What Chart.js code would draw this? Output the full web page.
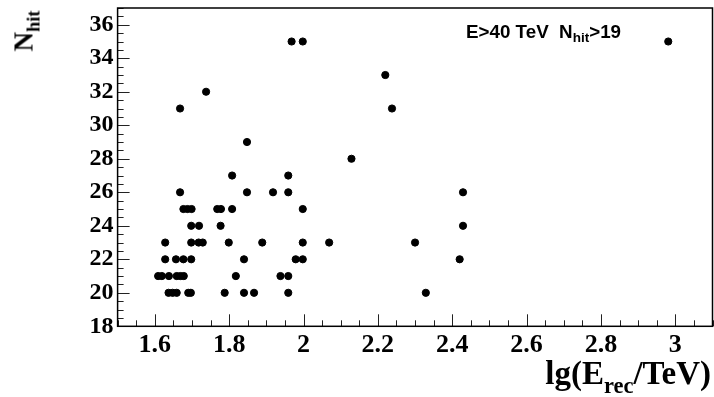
<!DOCTYPE html>
<html>
<head>
<meta charset="utf-8">
<script src="https://cdn.jsdelivr.net/npm/chart.js@4/dist/chart.umd.min.js"></script>
<style>
  body { margin: 0; background: #fff; }
  #wrap { position: relative; width: 714px; height: 397px; overflow: hidden; }
  .lbl { position: absolute; white-space: nowrap; line-height: 1; color: #000; }
  .lbl sub { font-size: 0.68em; vertical-align: -0.4em; line-height: 0; }
  #ytitle { font: bold 27px "Liberation Serif", serif; left: 24px; top: 31px; transform: translate(-50%, -50%) rotate(-90deg); }
  #xtitle { font: bold 33px "Liberation Serif", serif; right: 3px; top: 355px; }
  #note { font: bold 18.8px "Liberation Sans", Arial, sans-serif; left: 466px; top: 21px; }
  #note sub { font-size: 0.72em; vertical-align: -0.3em; }
</style>
</head>
<body>
<div id="wrap">
  <canvas id="c"></canvas>
  <div class="lbl" id="ytitle">N<sub>hit</sub></div>
  <div class="lbl" id="xtitle">lg(E<sub>rec</sub>/TeV)</div>
  <div class="lbl" id="note">E&gt;40 TeV&nbsp;&nbsp;N<sub>hit</sub>&gt;19</div>
</div>
<script>
// event values: reconstructed energy lg(E/TeV) and number of hits
const lgE = [
  1.968, 1.998, 2.981,
  2.220,
  1.738,
  1.668, 2.238,
  1.848,
  2.129,
  1.808, 1.959,
  1.668, 1.848, 1.918, 1.959, 2.429,
  1.677, 1.688, 1.699, 1.768, 1.778, 1.808, 1.998,
  1.698, 1.719, 1.777, 2.429,
  1.628, 1.698, 1.718, 1.729, 1.799, 1.889, 1.998, 2.069, 2.300,
  1.628, 1.657, 1.677, 1.698, 1.840, 1.979, 1.998, 2.420,
  1.609, 1.619, 1.638, 1.659, 1.669, 1.678, 1.818, 1.938, 1.959,
  1.637, 1.648, 1.659, 1.690, 1.697, 1.788, 1.840, 1.867, 1.959, 2.329
];
const nHit = [
  35, 35, 35,
  33,
  32,
  31, 31,
  29,
  28,
  27, 27,
  26, 26, 26, 26, 26,
  25, 25, 25, 25, 25, 25, 25,
  24, 24, 24, 24,
  23, 23, 23, 23, 23, 23, 23, 23, 23,
  22, 22, 22, 22, 22, 22, 22, 22,
  21, 21, 21, 21, 21, 21, 21, 21, 21,
  20, 20, 20, 20, 20, 20, 20, 20, 20, 20
];

// axis ranges and tick labels
const xRange = [1.5, 3.1];
const yRange = [18, 37];
const xTicks = [1.6, 1.8, 2.0, 2.2, 2.4, 2.6, 2.8, 3.0];
const yTicks = [18, 20, 22, 24, 26, 28, 30, 32, 34, 36];
const xMinorStep = 0.05;
const yMinorStep = 0.5;

const points = lgE.map((x, i) => ({ x: x, y: nHit[i] }));

// ROOT-like frame with ticks pointing inwards
const framePlugin = {
  id: 'frame',
  afterDraw(chart) {
    const ctx = chart.ctx;
    const a = chart.chartArea;
    const xs = chart.scales.x, ys = chart.scales.y;
    ctx.save();
    ctx.strokeStyle = '#222';
    ctx.lineWidth = 1;
    ctx.beginPath();
    for (let v = xRange[0]; v <= xRange[1] + 1e-9; v += xMinorStep) {
      const r = Math.round(v * 100) / 100;
      const major = xTicks.some(t => Math.abs(t - r) < 1e-6);
      const px = Math.round(xs.getPixelForValue(r)) + 0.5;
      ctx.moveTo(px, a.bottom);
      ctx.lineTo(px, a.bottom - (major ? 12 : 6));
    }
    for (let v = yRange[0]; v <= yRange[1] + 1e-9; v += yMinorStep) {
      const major = yTicks.some(t => Math.abs(t - v) < 1e-6);
      const py = Math.round(ys.getPixelForValue(v)) + 0.5;
      ctx.moveTo(a.left, py);
      ctx.lineTo(a.left + (major ? 12 : 6), py);
    }
    ctx.stroke();
    ctx.strokeStyle = '#000';
    ctx.lineWidth = 1.5;
    ctx.strokeRect(a.left, a.top, a.right - a.left, a.bottom - a.top);
    ctx.restore();
  }
};

new Chart(document.getElementById('c'), {
  type: 'scatter',
  data: {
    datasets: [{
      data: points,
      backgroundColor: '#000',
      borderColor: '#000',
      pointRadius: 3.6,
      pointHoverRadius: 3.6
    }]
  },
  options: {
    responsive: true,
    maintainAspectRatio: false,
    animation: false,
    layout: { autoPadding: false, padding: { top: 8, right: 1.5, left: 0, bottom: 0 } },
    plugins: { legend: { display: false }, tooltip: { enabled: false } },
    scales: {
      x: {
        type: 'linear',
        min: xRange[0],
        max: xRange[1],
        grid: { display: false, drawTicks: false },
        border: { display: false },
        afterBuildTicks: s => { s.ticks = xTicks.map(v => ({ value: v })); },
        afterFit: s => { s.height = 70.7; s.paddingLeft = 0; s.paddingRight = 0; },
        ticks: {
          padding: 3,
          color: '#000',
          maxRotation: 0,
          font: { family: 'Liberation Serif', size: 26, weight: 'bold' },
          callback: v => String(Math.round(v * 10) / 10)
        }
      },
      y: {
        type: 'linear',
        min: yRange[0],
        max: yRange[1],
        grid: { display: false, drawTicks: false },
        border: { display: false },
        afterBuildTicks: s => { s.ticks = yTicks.map(v => ({ value: v })); },
        afterFit: s => { s.width = 117.6; s.paddingTop = 0; s.paddingBottom = 0; },
        ticks: {
          padding: 4,
          color: '#000',
          font: { family: 'Liberation Serif', size: 24, weight: 'bold' }
        }
      }
    }
  },
  plugins: [framePlugin]
});
</script>
</body>
</html>
